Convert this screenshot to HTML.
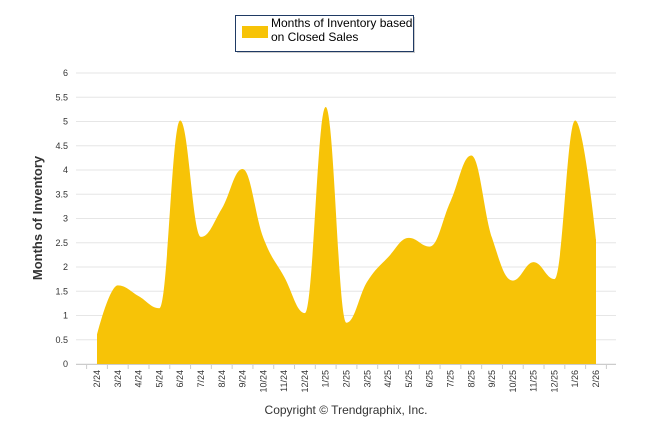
<!DOCTYPE html>
<html><head><meta charset="utf-8"><style>
body{margin:0;background:#fff;font-family:"Liberation Sans",sans-serif}
</style></head><body>
<svg width="646" height="434" xmlns="http://www.w3.org/2000/svg" font-family="Liberation Sans, sans-serif">
<g>
<rect x="237" y="17" width="178" height="36" fill="#999" opacity="0.5"/>
<rect x="235.5" y="15.5" width="178" height="36" fill="#fff" stroke="#1f3a64" stroke-width="1"/>
<rect x="242" y="26" width="26" height="12" fill="#f7c307"/>
<text x="271" y="27" font-size="12" fill="#000">Months of Inventory based</text>
<text x="271" y="41" font-size="12" fill="#000">on Closed Sales</text>
</g>
<g id="grid"></g>
<g id="area"></g>
<g id="xaxis"></g>
<text transform="translate(42,218) rotate(-90)" text-anchor="middle" font-size="13" font-weight="bold" fill="#333">Months of Inventory</text>
<text x="346" y="414" text-anchor="middle" font-size="12" fill="#333">Copyright © Trendgraphix, Inc.</text>
</svg>
<script>
const categories=["2/24","3/24","4/24","5/24","6/24","7/24","8/24","9/24","10/24","11/24","12/24","1/25","2/25","3/25","4/25","5/25","6/25","7/25","8/25","9/25","10/25","11/25","12/25","1/26","2/26"];
const values=[0.6,1.62,1.4,1.15,5.02,2.62,3.2,4.02,2.6,1.8,1.05,5.3,0.85,1.7,2.2,2.6,2.42,3.35,4.3,2.6,1.72,2.1,1.75,5.02,2.57];
const yTicks=[0,0.5,1,1.5,2,2.5,3,3.5,4,4.5,5,5.5,6];
const NS="http://www.w3.org/2000/svg";
const x0=97,x1=596,left=76,right=616,yb=364,yt=73;
const xs=i=>x0+(x1-x0)*i/(categories.length-1);
const ys=v=>yb-(yb-yt)*v/6;
function mk(t,a,p){const e=document.createElementNS(NS,t);for(const k in a)e.setAttribute(k,a[k]);p.appendChild(e);return e;}
const grid=document.getElementById('grid');
yTicks.forEach(v=>{
 const l=mk('line',{x1:left,x2:right,y1:ys(v),y2:ys(v),stroke:'#e6e6e6','stroke-width':1},grid);
 
 
 const t=mk('text',{x:68,y:ys(v)+3,'text-anchor':'end','font-size':9,fill:'#333'},grid);
 t.textContent=v;
 
 
});
const pts=values.map((v,i)=>[xs(i),ys(v)]);
// Highcharts-style spline control points
const ctrl=pts.map((p,i)=>{
 if(i===0||i===pts.length-1)return {l:p,r:p};
 const [lx,ly]=pts[i-1],[nx,ny]=pts[i+1],[px,py]=p;
 let lcx=(1.5*px+lx)/2.5,lcy=(1.5*py+ly)/2.5,rcx=(1.5*px+nx)/2.5,rcy=(1.5*py+ny)/2.5;
 const corr=((rcy-lcy)*(rcx-px))/(rcx-lcx)+py-rcy;
 lcy+=corr;rcy+=corr;
 if(lcy>ly&&lcy>py){lcy=Math.max(ly,py);rcy=2*py-lcy;}
 else if(lcy<ly&&lcy<py){lcy=Math.min(ly,py);rcy=2*py-lcy;}
 if(rcy>ny&&rcy>py){rcy=Math.max(ny,py);lcy=2*py-rcy;}
 else if(rcy<ny&&rcy<py){rcy=Math.min(ny,py);lcy=2*py-rcy;}
 return {l:[lcx,lcy],r:[rcx,rcy]};
});
let d=`M${pts[0][0]},${yb}L${pts[0][0]},${pts[0][1]}`;
for(let i=1;i<pts.length;i++){
 const c1=ctrl[i-1].r,c2=ctrl[i].l;
 d+=`C${c1[0]},${c1[1]} ${c2[0]},${c2[1]} ${pts[i][0]},${pts[i][1]}`;
}
d+=`L${pts[pts.length-1][0]},${yb}Z`;
const a=mk('path',{d:d,fill:'#f7c307'},document.getElementById('area'));


const xa=document.getElementById('xaxis');
const ax=mk('line',{x1:left,x2:right,y1:yb+0.5,y2:yb+0.5,stroke:'#ccc'},xa);


const step=(x1-x0)/(categories.length-1);
for(let i=0;i<=categories.length;i++){
 const tx=x0-step/2+i*step;
 mk('line',{x1:tx,x2:tx,y1:yb,y2:yb+5,stroke:'#ccc'},xa);
}
categories.forEach((c,i)=>{
 const t=mk('text',{transform:`translate(${xs(i)+3},370) rotate(-90)`,'text-anchor':'end','font-size':9,fill:'#333'},xa);
 t.textContent=c;
 
 
});
</script>
</body></html>
